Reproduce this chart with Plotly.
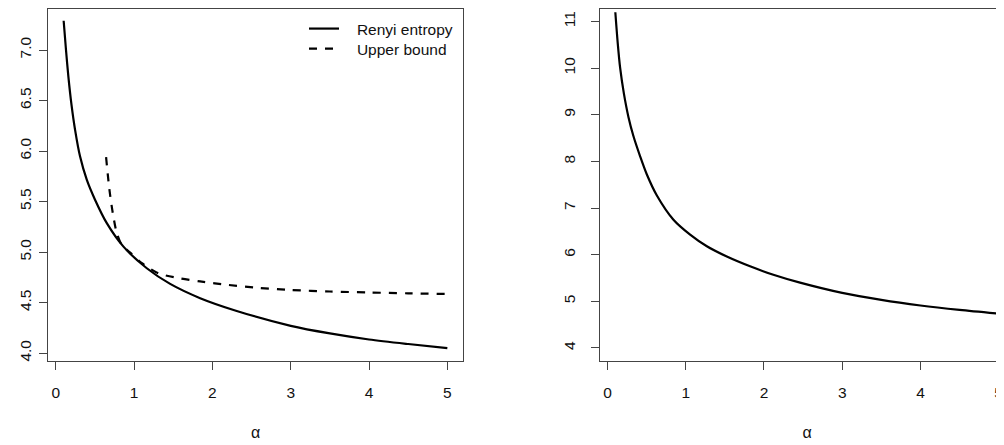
import plotly.graph_objects as go

# ---- data ----
alpha_left = [0.1, 0.13, 0.16, 0.2, 0.246, 0.31, 0.396, 0.502, 0.651, 0.864, 1.162, 1.46, 1.843, 2.3, 3.0, 3.5, 4.0, 4.5, 5.0]
renyi_left = [7.29, 7.00, 6.74, 6.46, 6.21, 5.945, 5.714, 5.516, 5.286, 5.054, 4.84, 4.685, 4.544, 4.42, 4.27, 4.195, 4.135, 4.09, 4.05]

alpha_bound = [0.642, 0.685, 0.728, 0.779, 0.843, 0.95, 1.1, 1.31, 1.588, 1.843, 2.2, 2.6, 3.0, 3.5, 4.0, 4.5, 5.0]
upper_bound = [5.94, 5.615, 5.385, 5.187, 5.07, 4.995, 4.89, 4.79, 4.74, 4.71, 4.675, 4.645, 4.625, 4.61, 4.60, 4.592, 4.585]

alpha_right = [0.1, 0.13, 0.162, 0.209, 0.268, 0.33, 0.418, 0.503, 0.631, 0.843, 1.056, 1.27, 1.525, 1.822, 2.12, 2.461, 3.0, 3.5, 4.0, 4.5, 5.0]
renyi_right = [11.2, 10.55, 10.0, 9.46, 8.95, 8.55, 8.105, 7.72, 7.27, 6.75, 6.43, 6.18, 5.96, 5.75, 5.57, 5.40, 5.18, 5.03, 4.91, 4.815, 4.735]

x_ticks = [0, 1, 2, 3, 4, 5]
y_ticks_left = [4.0, 4.5, 5.0, 5.5, 6.0, 6.5, 7.0]
y_ticks_right = [4, 5, 6, 7, 8, 9, 10, 11]

# the page body has an 8px margin; figure coords = page coords - 8
W, H = 1006, 445
FONT = "Liberation Sans, Arial, sans-serif"
AX = "#444444"
TXT = "#111111"
NB = "\u00a0"

fig = go.Figure()
fig.add_trace(go.Scatter(x=alpha_left, y=renyi_left, mode="lines", name=NB * 3 + "Renyi entropy",
                         legend="legend",
                         line=dict(color="black", width=2.2, shape="spline", smoothing=0.8),
                         xaxis="x", yaxis="y"))
fig.add_trace(go.Scatter(x=alpha_bound, y=upper_bound, mode="lines", name=NB * 3 + "Upper bound",
                         legend="legend2",
                         line=dict(color="black", width=2.2, dash="8px,8px", shape="spline", smoothing=0.8),
                         xaxis="x", yaxis="y"))
fig.add_trace(go.Scatter(x=alpha_right, y=renyi_right, mode="lines", name="Renyi entropy (right)",
                         showlegend=False,
                         line=dict(color="black", width=2.2, shape="spline", smoothing=0.8),
                         xaxis="x2", yaxis="y2"))

ydom = [1 - 353 / H, 1 - 0.5 / H]
common_x = dict(showgrid=False, zeroline=False, ticks="outside", ticklen=8, tickcolor=AX, tickwidth=1,
                showline=True, linecolor=AX, linewidth=1, tickvals=x_ticks, mirror=True,
                tickfont=dict(family=FONT, size=15.5, color=TXT), ticklabelstandoff=9,
                title=dict(text="α", font=dict(family=FONT, size=16, color=TXT), standoff=27),
                automargin=False, ticklabeloverflow="allow", range=[-0.096, 5.196])
common_y = dict(showgrid=False, zeroline=False, ticks="outside", ticklen=8, tickcolor=AX, tickwidth=1,
                showline=True, linecolor=AX, linewidth=1, tickangle=-90, mirror=True,
                tickfont=dict(family=FONT, size=15.5, color=TXT), automargin=False)

leg_common = dict(xanchor="left", yanchor="top", bgcolor="rgba(0,0,0,0)", borderwidth=0,
                  font=dict(family=FONT, size=15.5, color=TXT), itemwidth=30)

fig.update_layout(
    width=W, height=H,
    margin=dict(l=0, r=0, t=0, b=0),
    paper_bgcolor="white", plot_bgcolor="white",
    xaxis=dict(domain=[40.3 / W, 454.7 / W], anchor="y", **common_x),
    yaxis=dict(domain=ydom, range=[3.922, 7.411], anchor="x",
               tickvals=y_ticks_left, ticktext=[f"{v:.1f}" for v in y_ticks_left],
               ticklabelstandoff=2, **common_y),
    xaxis2=dict(domain=[592 / W, 1.0], anchor="y2", **common_x),
    yaxis2=dict(domain=ydom, range=[3.72, 11.28], anchor="x2",
                tickvals=y_ticks_right, ticklabelstandoff=10, **common_y),
    legend=dict(x=296 / W, y=1 - 4 / H, **leg_common),
    legend2=dict(x=296 / W, y=1 - 24 / H, **leg_common),
    showlegend=True,
)

fig.write_html("out.html")
